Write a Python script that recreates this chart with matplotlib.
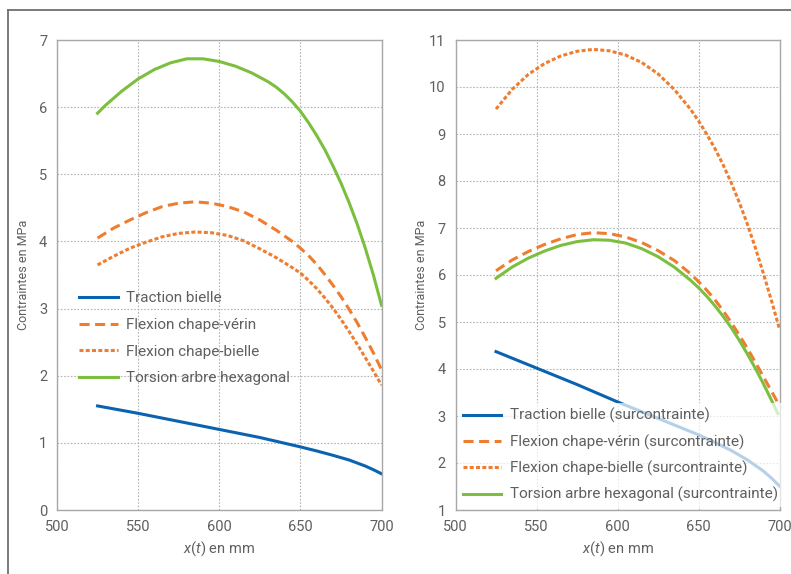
import matplotlib
matplotlib.use("Agg")
import matplotlib.pyplot as plt
from matplotlib.lines import Line2D

plt.rcParams['font.family'] = ['Roboto', 'DejaVu Sans']
plt.rcParams['mathtext.fontset'] = 'custom'
plt.rcParams['mathtext.it'] = 'Roboto:italic'
plt.rcParams['mathtext.rm'] = 'Roboto'

# ---- Data ----
# Left panel
x_trac_l = [525, 550, 575, 600, 625, 650, 660, 670, 680, 690, 695, 700]
y_trac_l = [1.55, 1.44, 1.32, 1.20, 1.08, 0.94, 0.88, 0.815, 0.745, 0.655, 0.60, 0.54]

x_fv_l = [525, 535, 545, 555, 565, 575, 585, 595, 605, 615, 625, 635, 645, 650, 655, 660, 665, 670, 675, 680, 685, 690, 695, 700]
y_fv_l = [4.05, 4.20, 4.32, 4.43, 4.52, 4.57, 4.59, 4.57, 4.52, 4.44, 4.32, 4.17, 4.00, 3.90, 3.79, 3.66, 3.51, 3.35, 3.18, 2.99, 2.79, 2.57, 2.34, 2.09]

x_fb_l = [525, 535, 545, 555, 565, 575, 585, 595, 605, 615, 625, 635, 645, 650, 655, 660, 665, 670, 675, 680, 685, 690, 695, 700]
y_fb_l = [3.65, 3.78, 3.90, 3.99, 4.07, 4.12, 4.14, 4.13, 4.09, 4.01, 3.89, 3.76, 3.61, 3.53, 3.42, 3.30, 3.16, 3.01, 2.84, 2.66, 2.47, 2.27, 2.07, 1.86]

x_tor_l = [525, 530, 540, 550, 560, 570, 580, 590, 600, 610, 620, 630, 635, 640, 645, 650, 655, 660, 665, 670, 675, 680, 685, 690, 695, 700]
y_tor_l = [5.91, 6.03, 6.24, 6.42, 6.56, 6.66, 6.72, 6.72, 6.68, 6.61, 6.51, 6.38, 6.30, 6.20, 6.08, 5.94, 5.77, 5.58, 5.37, 5.13, 4.87, 4.58, 4.26, 3.90, 3.50, 3.05]

# Right panel (surcontrainte)
x_trac_r = [525, 550, 575, 600, 625, 650, 660, 670, 680, 685, 690, 695, 700]
y_trac_r = [4.37, 4.02, 3.67, 3.30, 2.95, 2.60, 2.44, 2.27, 2.07, 1.95, 1.83, 1.68, 1.51]

x_fv_r = [525, 535, 545, 555, 565, 575, 585, 595, 605, 615, 625, 635, 645, 650, 655, 660, 665, 670, 675, 680, 685, 690, 695, 700]
y_fv_r = [6.09, 6.32, 6.50, 6.65, 6.77, 6.86, 6.90, 6.88, 6.81, 6.69, 6.52, 6.31, 6.03, 5.86, 5.68, 5.48, 5.25, 5.00, 4.73, 4.45, 4.15, 3.84, 3.53, 3.22]

x_fb_r = [525, 535, 545, 555, 565, 575, 585, 595, 605, 615, 625, 635, 645, 650, 655, 660, 665, 670, 675, 680, 685, 690, 695, 700]
y_fb_r = [9.53, 9.95, 10.27, 10.50, 10.66, 10.76, 10.80, 10.77, 10.68, 10.52, 10.28, 9.95, 9.53, 9.28, 9.00, 8.70, 8.36, 7.98, 7.56, 7.10, 6.59, 6.04, 5.46, 4.85]

x_tor_r = [525, 535, 545, 555, 565, 575, 585, 595, 605, 615, 625, 635, 645, 650, 655, 660, 665, 670, 675, 680, 685, 690, 695, 699]
y_tor_r = [5.93, 6.17, 6.36, 6.51, 6.63, 6.71, 6.75, 6.74, 6.68, 6.56, 6.39, 6.17, 5.89, 5.73, 5.55, 5.35, 5.13, 4.89, 4.62, 4.33, 4.02, 3.69, 3.34, 3.05]

labels_l = ["Traction bielle", "Flexion chape-vérin", "Flexion chape-bielle", "Torsion arbre hexagonal"]
labels_r = [s + " (surcontrainte)" for s in labels_l]

x_ticks = [500, 550, 600, 650, 700]
y_ticks_l = list(range(0, 8))
y_ticks_r = list(range(1, 12))

BLUE = '#0a63b0'
ORANGE = '#ee7d30'
GREEN = '#7cbf3f'
TXT = '#5f5f5f'
LW = 2.2

fig = plt.figure(figsize=(7.91, 5.74), dpi=100)
W, H = 791, 574

def px_axes(x0, y0, x1, y1):
    return fig.add_axes([x0 / W, 1 - y1 / H, (x1 - x0) / W, (y1 - y0) / H])

ax1 = px_axes(57, 40, 381.5, 510)
ax2 = px_axes(455.5, 40, 779.5, 510)

def style(ax, yticks, ylab_x):
    ax.set_xlim(500, 700)
    ax.set_xticks(x_ticks)
    ax.set_ylim(yticks[0], yticks[-1])
    ax.set_yticks(yticks)
    ax.grid(True, linestyle=(0, (1.5, 1.5)), color='#b5b5b5', linewidth=0.8)
    ax.set_axisbelow(True)
    for s in ax.spines.values():
        s.set_color('#a8a8a8')
        s.set_linewidth(1.0)
    ax.tick_params(length=0, labelsize=10.5, labelcolor=TXT, pad=7)
    ax.set_xlabel(r'$x$($t$) en mm', fontsize=10.5, color=TXT, labelpad=4)
    ax.set_ylabel('Contraintes en MPa', fontsize=9, color=TXT)
    ax.yaxis.set_label_coords(ylab_x, 0.5)

style(ax1, y_ticks_l, -0.083)
style(ax2, y_ticks_r, -0.085)

dash = (0, (3.3, 1.8))
dot = (0, (1.3, 0.75))

ax1.plot(x_trac_l, y_trac_l, color=BLUE, lw=LW, label=labels_l[0])
ax1.plot(x_fv_l, y_fv_l, color=ORANGE, lw=LW, linestyle=dash, label=labels_l[1])
ax1.plot(x_fb_l, y_fb_l, color=ORANGE, lw=LW, linestyle=dot, label=labels_l[2])
ax1.plot(x_tor_l, y_tor_l, color=GREEN, lw=LW, label=labels_l[3])

ax2.plot(x_trac_r, y_trac_r, color=BLUE, lw=LW, label=labels_r[0])
ax2.plot(x_fv_r, y_fv_r, color=ORANGE, lw=LW, linestyle=dash, label=labels_r[1])
ax2.plot(x_fb_r, y_fb_r, color=ORANGE, lw=LW, linestyle=dot, label=labels_r[2])
ax2.plot(x_tor_r, y_tor_r, color=GREEN, lw=LW, label=labels_r[3])

FS = 11
leg1 = ax1.legend(loc='upper left', bbox_to_anchor=(0.05, 0.478), frameon=False,
                  fontsize=FS, handlelength=2.5, handletextpad=0.55,
                  labelspacing=0.82, borderaxespad=0)
leg2 = ax2.legend(loc='lower left', bbox_to_anchor=(0.0, 0.0), frameon=True,
                  fontsize=FS, handlelength=2.5, handletextpad=0.55,
                  labelspacing=0.72, borderaxespad=0.2, borderpad=0.3)
leg2.get_frame().set_facecolor('white')
leg2.get_frame().set_alpha(0.7)
leg2.get_frame().set_edgecolor('none')
leg2.get_frame().set_boxstyle('square', pad=0)
for leg in (leg1, leg2):
    for t in leg.get_texts():
        t.set_color(TXT)

# outer frame lines (top and left)
fig.add_artist(Line2D([8 / W, 1.0], [1 - 10 / H, 1 - 10 / H], color='#707070', lw=1.3,
                      transform=fig.transFigure))
fig.add_artist(Line2D([8 / W, 8 / W], [1 - 10 / H, 0.0], color='#707070', lw=1.3,
                      transform=fig.transFigure))

fig.savefig('out.png', dpi=100)
